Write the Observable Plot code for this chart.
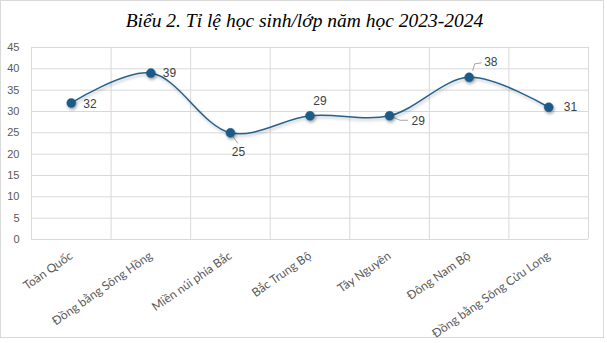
<!DOCTYPE html>
<html>
<head>
<meta charset="utf-8">
<script src="https://cdn.jsdelivr.net/npm/d3@7"></script>
<script src="https://cdn.jsdelivr.net/npm/@observablehq/plot@0.6"></script>
<style>
  html, body { margin: 0; padding: 0; background: #fff; }
  #wrap { position: relative; width: 604px; height: 338px; box-sizing: border-box; border: 1px solid #d9d9d9; background: #fff; }
  #title { position: absolute; left: 0; right: 0; top: 8px; text-align: center; font-family: "Liberation Serif", "DejaVu Serif", serif; font-style: italic; font-size: 19.5px; color: #000; line-height: 24px; padding-left: 5px; }
  #chart { position: absolute; left: 0; top: 36px; }
  .chart g[aria-label="dot"] circle { filter: drop-shadow(1px 2px 1.5px rgba(0,0,0,0.35)); }
  .chart g[aria-label="line"] path { filter: drop-shadow(1px 2px 1.5px rgba(0,0,0,0.25)); }
</style>
</head>
<body>
<div id="wrap">
  <div id="title">Biểu 2. Tỉ lệ học sinh/lớp năm học 2023-2024</div>
  <div id="chart"></div>
</div>
<script>
const categories = ["Toàn Quốc", "Đồng bằng Sông Hồng", "Miền núi phía Bắc", "Bắc Trung Bộ", "Tây Nguyên", "Đông Nam Bộ", "Đồng bằng Sông Cửu Long"];
const values = [32, 39, 25, 29, 29, 38, 31];
const yTicks = [0, 5, 10, 15, 20, 25, 30, 35, 40, 45];

const data = categories.map((c, i) => ({ c, i, v: values[i] }));
const X = d => d.i + 0.5;

// label placement per point (style config, not data)
const place = {
  0: { dx: 12, dy: 1, anchor: "start" },
  1: { dx: 12, dy: 0, anchor: "start" },
  2: { dx: 8, dy: 19, anchor: "middle", leader: [[2, 3], [8, 11]] },
  3: { dx: 10, dy: -15, anchor: "middle" },
  4: { dx: 22, dy: 5, anchor: "start", leader: [[4, 2], [11, 5], [19, 5]] },
  5: { dx: 15, dy: -15, anchor: "start", leader: [[4, -6], [6, -13], [13, -14]] },
  6: { dx: 15, dy: 0, anchor: "start" }
};

const labelMarks = data.map(d => {
  const p = place[d.i];
  return Plot.text([d], { x: X, y: "v", text: d => String(d.v), dx: p.dx, dy: p.dy, textAnchor: p.anchor,
    fill: "#404040", fontSize: 12, fontFamily: "Liberation Sans, Arial, sans-serif" });
});

const leaderRecs = data.filter(d => place[d.i].leader);
const leaderMark = Plot.dot(leaderRecs, {
  x: X, y: "v", r: 0,
  render: (index, scales, values, dims, context) => {
    const g = d3.create("svg:g").attr("aria-label", "leader");
    for (const i of index) {
      const pts = place[leaderRecs[i].i].leader.map(([ox, oy]) => [values.x[i] + ox, values.y[i] + oy]);
      g.append("path").attr("d", d3.line()(pts)).attr("fill", "none").attr("stroke", "#a6a6a6").attr("stroke-width", 1);
    }
    return g.node();
  }
});

const plot = Plot.plot({
  width: 602,
  height: 300,
  marginTop: 10,
  marginBottom: 98,
  marginLeft: 30,
  marginRight: 15,
  className: "chart",
  style: { background: "transparent", color: "#595959", overflow: "visible" },
  x: { domain: [0, 7], axis: null },
  y: { domain: [0, 45], axis: null },
  marks: [
    Plot.ruleY(yTicks, { stroke: "#d9d9d9", strokeWidth: 1 }),
    Plot.ruleX(d3.range(8), { stroke: "#d9d9d9", strokeWidth: 1 }),
    Plot.axisY({ ticks: yTicks, tickSize: 0, tickPadding: 12, fontSize: 11, fontFamily: "Liberation Sans, Arial, sans-serif", fill: "#595959", label: null }),
    Plot.axisX({ ticks: d3.range(7).map(i => i + 0.5), tickFormat: d => categories[Math.floor(d)], tickRotate: -35, tickSize: 0, tickPadding: 15,
      fontSize: 12, fontFamily: "Lato, Open Sans, sans-serif", fill: "#595959", label: null }),
    Plot.line(data, { x: X, y: "v", curve: "catmull-rom", stroke: "#22628f", strokeWidth: 1.5 }),
    leaderMark,
    Plot.dot(data, { x: X, y: "v", r: 4.5, fill: "#1c5b87", stroke: "#1c5b87", strokeWidth: 0.5 }),
    ...labelMarks
  ]
});
document.getElementById("chart").appendChild(plot);
</script>
</body>
</html>
